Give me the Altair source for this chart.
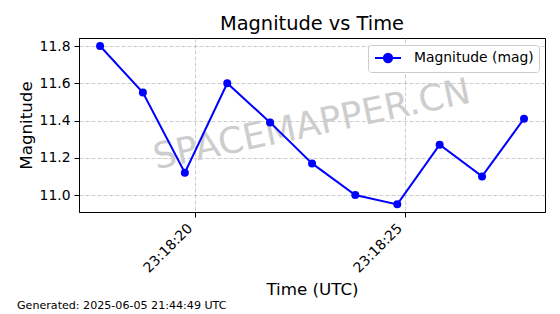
import altair as alt
import pandas as pd

# ---- data ----
times = [
    "2025-06-05T23:18:17.740Z", "2025-06-05T23:18:18.760Z", "2025-06-05T23:18:19.760Z",
    "2025-06-05T23:18:20.770Z", "2025-06-05T23:18:21.790Z", "2025-06-05T23:18:22.790Z",
    "2025-06-05T23:18:23.820Z", "2025-06-05T23:18:24.820Z", "2025-06-05T23:18:25.830Z",
    "2025-06-05T23:18:26.840Z", "2025-06-05T23:18:27.840Z",
]
magnitudes = [11.80, 11.55, 11.12, 11.60, 11.39, 11.17, 11.00, 10.95, 11.27, 11.10, 11.41]
series_name = "Magnitude (mag)"
y_ticks = [11.0, 11.2, 11.4, 11.6, 11.8]
title_text = "Magnitude vs Time"
x_title = "Time (UTC)"
y_title = "Magnitude"
watermark = "SPACEMAPPER.CN"
footer = "Generated: 2025-06-05 21:44:49 UTC"

FONT = "DejaVu Sans"
W, H = 466, 174

df = pd.DataFrame({"time": times, "mag": magnitudes, "series": [series_name] * len(times)})


def dt(sec, ms=0):
    return alt.DateTime(year=2025, month=6, date=5, hours=23, minutes=18,
                        seconds=sec, milliseconds=ms, utc=True)


x_enc = alt.X(
    "time:T",
    scale=alt.Scale(type="utc", domain=[dt(17, 238), dt(28, 340)]),
    axis=alt.Axis(
        values=[dt(20), dt(25)], format="%H:%M:%S", title=x_title,
        labelAngle=315, labelAlign="right", labelBaseline="top",
        labelOffset=-10, titlePadding=7,
    ),
)
y_enc = alt.Y(
    "mag:Q",
    scale=alt.Scale(domain=[10.909, 11.843], nice=False, zero=False),
    axis=alt.Axis(values=y_ticks, format=".1f", title=y_title, titlePadding=4),
)

symbol_path = ("M-1.86,0H1.86M0.59,0A0.59,0.59,0,1,1,-0.59,0"
               "A0.59,0.59,0,1,1,0.59,0Z")

line = alt.Chart(df).mark_line(
    strokeWidth=2, point=alt.OverlayMarkDef(filled=True, size=64, opacity=1)
).encode(
    x=x_enc,
    y=y_enc,
    color=alt.Color(
        "series:N",
        scale=alt.Scale(domain=[series_name], range=["#0000ff"]),
        legend=alt.Legend(
            title=None, orient="none", legendX=289, legendY=7,
            symbolType=symbol_path, symbolSize=196, symbolStrokeWidth=2,
            symbolFillColor="#0000ff", symbolStrokeColor="#0000ff",
            symbolOffset=7,
            labelFontSize=13.9, labelFont=FONT, labelColor="black",
            labelOffset=18, padding=5, fillColor="white",
            strokeColor="#cccccc", cornerRadius=3,
        ),
    ),
)

wm = alt.Chart(pd.DataFrame({"t": [watermark]})).mark_text(
    fontSize=36, font=FONT, angle=348, color="#cdcdcd",
    align="center", baseline="middle",
).encode(text="t:N", x=alt.value(W / 2), y=alt.value(H / 2))

title = alt.Chart(pd.DataFrame({"t": [title_text]})).mark_text(
    fontSize=19.4, font=FONT, color="black", align="center", baseline="alphabetic",
).encode(text="t:N", x=alt.value(W / 2), y=alt.value(-8))

foot = alt.Chart(pd.DataFrame({"t": [footer]})).mark_text(
    fontSize=11.1, font=FONT, color="black", align="left", baseline="middle",
).encode(text="t:N", x=alt.value(-62), y=alt.value(268))

chart = alt.layer(wm, line, title, foot).properties(
    width=W, height=H, background="white",
    autosize=alt.AutoSizeParams(type="none"),
    padding={"left": 79, "top": 38, "right": 15, "bottom": 102},
).configure_view(
    stroke="black", strokeWidth=1,
).configure_axis(
    labelFont=FONT, titleFont=FONT, labelFontSize=13.9, titleFontSize=16.7,
    titleFontWeight="normal", labelColor="black", titleColor="black",
    domainColor="black", tickColor="black", tickSize=5, labelPadding=4,
    gridColor="#b0b0b0", gridOpacity=0.7, gridDash=[4, 2], gridWidth=0.9,
)

chart.save("out.html", embed_options={"renderer": "svg", "actions": False})
